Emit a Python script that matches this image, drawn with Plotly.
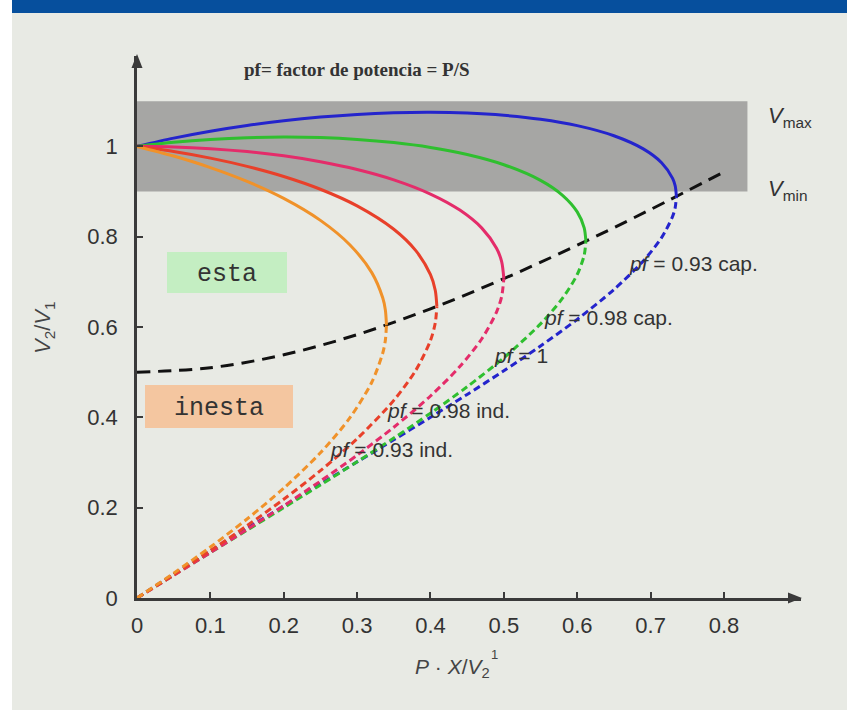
import plotly.graph_objects as go

# ---------------- data ----------------
x_ticks = [0, 0.1, 0.2, 0.3, 0.4, 0.5, 0.6, 0.7, 0.8]
x_tick_text = ["0", "0.1", "0.2", "0.3", "0.4", "0.5", "0.6", "0.7", "0.8"]
y_ticks = [0, 0.2, 0.4, 0.6, 0.8, 1.0]
y_tick_text = ["0", "0.2", "0.4", "0.6", "0.8", "1"]

# pf = 0.93 cap. (blue)
cap093_p = [0, 0.05, 0.1, 0.15, 0.2, 0.25, 0.3, 0.35, 0.4, 0.45, 0.5, 0.55, 0.6, 0.65, 0.69, 0.715, 0.73, 0.7335, 0.7352]
cap093_v_up = [1.0, 1.0182, 1.0336, 1.0463, 1.0567, 1.0648, 1.0707, 1.0742, 1.0753, 1.0736, 1.0687, 1.0599, 1.0458, 1.0234, 0.9943, 0.9637, 0.9291, 0.9127, 0.8891]
cap093_v_lo = [0.0, 0.0528, 0.1040, 0.1541, 0.2035, 0.2525, 0.3013, 0.3503, 0.4000, 0.4507, 0.5031, 0.5580, 0.6169, 0.6829, 0.7462, 0.7978, 0.8448, 0.8642, 0.8891]

# pf = 0.98 cap. (green)
cap098_p = [0, 0.05, 0.1, 0.15, 0.2, 0.25, 0.3, 0.35, 0.4, 0.45, 0.5, 0.55, 0.58, 0.6, 0.6095, 0.6118]
cap098_v_up = [1.0, 1.0088, 1.0151, 1.0190, 1.0204, 1.0193, 1.0154, 1.0083, 0.9975, 0.9819, 0.9593, 0.9247, 0.8916, 0.8549, 0.8196, 0.7901]
cap098_v_lo = [0.0, 0.0506, 0.1005, 0.1502, 0.2000, 0.2503, 0.3015, 0.3542, 0.4092, 0.4677, 0.5319, 0.6070, 0.6638, 0.7162, 0.7589, 0.7901]

# pf = 1 (crimson)
pf1_p = [0, 0.05, 0.1, 0.15, 0.2, 0.25, 0.3, 0.35, 0.4, 0.44, 0.47, 0.49, 0.497, 0.5]
pf1_v_up = [1.0, 0.9988, 0.9949, 0.9884, 0.9789, 0.9659, 0.9487, 0.9258, 0.8944, 0.8588, 0.8189, 0.7743, 0.7448, 0.7071]
pf1_v_lo = [0.0, 0.0501, 0.1005, 0.1518, 0.2043, 0.2588, 0.3162, 0.3781, 0.4472, 0.5124, 0.5740, 0.6329, 0.6673, 0.7071]

# pf = 0.98 ind. (red)
ind098_p = [0, 0.05, 0.1, 0.15, 0.2, 0.25, 0.3, 0.35, 0.38, 0.40, 0.4065, 0.4087]
ind098_v_up = [1.0, 0.9885, 0.9739, 0.9557, 0.9333, 0.9050, 0.8682, 0.8164, 0.7690, 0.7158, 0.6814, 0.6458]
ind098_v_lo = [0.0, 0.0516, 0.1048, 0.1602, 0.2187, 0.2819, 0.3526, 0.4375, 0.5042, 0.5702, 0.6087, 0.6458]

# pf = 0.93 ind. (orange)
ind093_p = [0, 0.05, 0.1, 0.15, 0.2, 0.25, 0.29, 0.32, 0.335, 0.3385, 0.3400]
ind093_v_up = [1.0, 0.9785, 0.9530, 0.9224, 0.8848, 0.8361, 0.7822, 0.7204, 0.6641, 0.6378, 0.6047]
ind093_v_lo = [0.0, 0.0550, 0.1128, 0.1749, 0.2431, 0.3215, 0.3986, 0.4777, 0.5425, 0.5707, 0.6047]

# stability limit (black dashed)
limit_p = [0, 0.1, 0.2, 0.3, 0.4, 0.5, 0.6, 0.7, 0.8]
limit_v = [0.5, 0.5099, 0.5385, 0.5831, 0.6403, 0.7071, 0.7810, 0.8602, 0.9434]

band_v = [0.9, 1.1]
band_p_end = 0.832

curve_labels = ["pf = 0.93 cap.", "pf = 0.98 cap.", "pf = 1", "pf = 0.98 ind.", "pf = 0.93 ind."]

# ---------------- styles ----------------
TXT = "#333333"
AX = "#3a3a3a"
SANS = "Liberation Sans, Arial, Helvetica, sans-serif"
MONO = "Liberation Mono, Courier New, monospace"
X_MAX = 0.905
Y_MAX = 1.2

curves = [
    (cap093_p, cap093_v_up, cap093_v_lo, "#2424cc"),
    (cap098_p, cap098_v_up, cap098_v_lo, "#2fbf2f"),
    (pf1_p, pf1_v_up, pf1_v_lo, "#e42c6a"),
    (ind098_p, ind098_v_up, ind098_v_lo, "#e8402a"),
    (ind093_p, ind093_v_up, ind093_v_lo, "#f0922a"),
]

fig = go.Figure()

fig.add_trace(go.Scatter(x=limit_p, y=limit_v, mode="lines",
                         line=dict(color="#111111", width=3, dash="13px,8px", shape="spline"),
                         hoverinfo="skip"))

for p, vu, vl, col in curves:
    fig.add_trace(go.Scatter(x=p, y=vl, mode="lines",
                             line=dict(color=col, width=3, dash="7px,4px", shape="spline", smoothing=0.8),
                             hoverinfo="skip"))
    fig.add_trace(go.Scatter(x=p, y=vu, mode="lines",
                             line=dict(color=col, width=3, shape="spline", smoothing=0.8),
                             hoverinfo="skip"))

PLOT_W = 664.0
PLOT_H = 542.0

def px_x(px):
    return (px - 137) / PLOT_W * X_MAX

def px_y(py):
    return (598 - py) / PLOT_H * Y_MAX

def pp_x(px):
    return (px - 137) / PLOT_W

def pp_y(py):
    return (598 - py) / PLOT_H

# arrowheads (paper coordinates)
x_arrow = "M {:.4f} {:.4f} L {:.4f} {:.4f} L {:.4f} {:.4f} Z".format(
    pp_x(802), pp_y(598), pp_x(788), pp_y(592.5), pp_x(788), pp_y(603.5))
y_arrow = "M {:.4f} {:.4f} L {:.4f} {:.4f} L {:.4f} {:.4f} Z".format(
    pp_x(137), pp_y(54), pp_x(131.5), pp_y(68), pp_x(142.5), pp_y(68))

shapes = [
    dict(type="rect", xref="paper", yref="paper", x0=pp_x(-20), x1=pp_x(12), y0=pp_y(730), y1=pp_y(-20),
         fillcolor="white", line=dict(width=0), layer="below"),
    dict(type="rect", xref="paper", yref="paper", x0=pp_x(12), x1=pp_x(870), y0=pp_y(13), y1=pp_y(-20),
         fillcolor="#064f9d", line=dict(width=0), layer="below"),
    dict(type="rect", xref="x", yref="y", x0=0, x1=band_p_end, y0=band_v[0], y1=band_v[1],
         fillcolor="#a6a6a4", line=dict(width=0), layer="below"),
    dict(type="rect", xref="x", yref="y", x0=px_x(167), x1=px_x(287), y0=px_y(293), y1=px_y(252),
         fillcolor="#c4eec2", line=dict(width=0), layer="below"),
    dict(type="rect", xref="x", yref="y", x0=px_x(145), x1=px_x(293), y0=px_y(428), y1=px_y(385),
         fillcolor="#f4c6a0", line=dict(width=0), layer="below"),
    dict(type="path", xref="paper", yref="paper", path=x_arrow, fillcolor=AX, line=dict(width=0)),
    dict(type="path", xref="paper", yref="paper", path=y_arrow, fillcolor=AX, line=dict(width=0)),
]

def note(px, py, text, size, family=SANS, color=TXT, xanchor="center", angle=0):
    return dict(x=pp_x(px), y=pp_y(py), xref="paper", yref="paper", text=text, showarrow=False,
                xanchor=xanchor, yanchor="middle", textangle=angle,
                font=dict(family=family, size=size, color=color))

label_pos = [(627, 263), (542, 317), (492, 355), (385, 410), (328, 450)]
annotations = []
for text, (lx, ly) in zip(curve_labels, label_pos):
    annotations.append(note(lx, ly, text.replace("pf", "<i>pf</i>", 1), 21, xanchor="left"))

annotations += [
    note(357, 70, "<b>pf= factor de potencia = P/S</b>", 19, family="Liberation Serif, Times New Roman, serif"),
    note(766, 117, "<i>V</i><sub>max</sub>", 22, xanchor="left"),
    note(766, 190, "<i>V</i><sub>min</sub>", 22, xanchor="left"),
    note(227, 274, "esta", 25, family=MONO),
    note(219, 408, "inesta", 25, family=MONO),
    note(44, 328, "<i>V</i><sub>2</sub>/<i>V</i><sub>1</sub>", 22, color="#444444", angle=-90),
    note(413, 668, "<i>P</i> · <i>X</i>/<i>V</i><sub>2</sub>", 21, color="#444444", xanchor="left"),
    note(489, 654, "1", 13, color="#444444", xanchor="left"),
]

fig.update_layout(
    width=847, height=710,
    margin=dict(l=137, r=46, t=56, b=112),
    paper_bgcolor="#e8eae4",
    plot_bgcolor="#e8eae4",
    showlegend=False,
    shapes=shapes,
    annotations=annotations,
    xaxis=dict(range=[0, X_MAX], showgrid=False, zeroline=False, showline=True,
               linecolor=AX, linewidth=2.5, ticks="inside", ticklen=6, tickwidth=1.5,
               tickcolor=AX, tickvals=x_ticks, ticktext=x_tick_text,
               tickfont=dict(family=SANS, size=22, color=TXT), ticklabelstandoff=6),
    yaxis=dict(range=[0, Y_MAX], showgrid=False, zeroline=False, showline=True,
               linecolor=AX, linewidth=2.5, ticks="inside", ticklen=6, tickwidth=1.5,
               tickcolor=AX, tickvals=y_ticks, ticktext=y_tick_text,
               tickfont=dict(family=SANS, size=22, color=TXT), ticklabelstandoff=12),
)

fig.write_html("out.html", config={"displayModeBar": False},
               post_script="document.body.style.margin='0';document.body.style.overflow='hidden';")
